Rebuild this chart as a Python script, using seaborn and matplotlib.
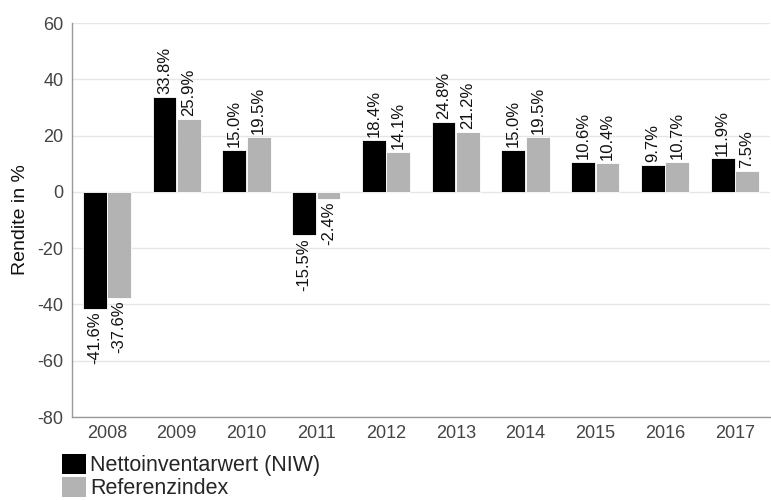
import matplotlib
matplotlib.use("Agg")
import matplotlib.pyplot as plt
import seaborn as sns
import pandas as pd
from matplotlib.patches import Patch

years = ["2008", "2009", "2010", "2011", "2012", "2013", "2014", "2015", "2016", "2017"]
niw = [-41.6, 33.8, 15.0, -15.5, 18.4, 24.8, 15.0, 10.6, 9.7, 11.9]
ref = [-37.6, 25.9, 19.5, -2.4, 14.1, 21.2, 19.5, 10.4, 10.7, 7.5]
series = ["Nettoinventarwert (NIW)", "Referenzindex"]
colors = ["#000000", "#b3b3b3"]
yticks = [-80, -60, -40, -20, 0, 20, 40, 60]

df = pd.DataFrame({
    "Jahr": years * 2,
    "Rendite": niw + ref,
    "Serie": [series[0]] * len(years) + [series[1]] * len(years),
})

sns.set_theme(style="white")
plt.rcParams["font.family"] = ["Liberation Sans", "DejaVu Sans"]

fig = plt.figure(figsize=(7.71, 5.0), dpi=100)
ax = fig.add_axes([0.0934, 0.166, 0.905, 0.788])

sns.barplot(data=df, x="Jahr", y="Rendite", hue="Serie", palette=colors,
            width=0.7, gap=0.03, ax=ax, legend=False, saturation=1,
            edgecolor="white", linewidth=0.6)

for cont in ax.containers:
    labels = [f"{v:.1f}%" for v in cont.datavalues]
    ax.bar_label(cont, labels=labels, rotation=90, padding=2, fontsize=12, color="#111111")

ax.set_ylim(-80, 60)
ax.set_yticks(yticks)
ax.set_yticklabels([str(t) for t in yticks])
ax.set_xlim(-0.5, len(years) - 0.5)
ax.yaxis.grid(True, color="#e6e6e6", linewidth=1)
ax.set_axisbelow(True)
for s in ["top", "right"]:
    ax.spines[s].set_visible(False)
for s in ["left", "bottom"]:
    ax.spines[s].set_color("#999999")
    ax.spines[s].set_linewidth(1)
ax.tick_params(axis="both", length=0, labelsize=13, colors="#444444", pad=6)
ax.set_xlabel("")
ax.set_ylabel("Rendite in %", fontsize=14, color="#111111", labelpad=6)

handles = [Patch(facecolor=c, edgecolor="none") for c in colors]
fig.legend(handles, series, loc="upper left", bbox_to_anchor=(0.081, 0.093),
           frameon=False, fontsize=15.5, handlelength=1.1, handleheight=1.1,
           handletextpad=0.2, labelspacing=0.02, borderpad=0, borderaxespad=0)

fig.savefig("out.png", dpi=100)
